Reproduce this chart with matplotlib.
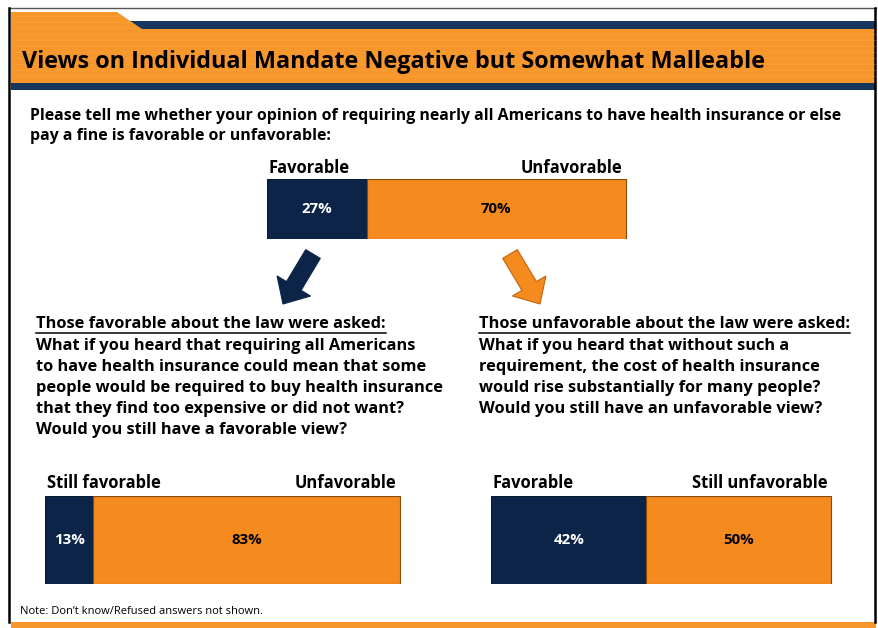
import matplotlib
matplotlib.use('Agg')
import matplotlib.pyplot as plt
import matplotlib.patches as mpatches

plt.rcParams['font.family'] = ['Open Sans', 'DejaVu Sans']

# Datos de la encuesta
titulo = 'Views on Individual Mandate Negative but Somewhat Malleable'
pregunta = ['Please tell me whether your opinion of requiring nearly all Americans to have health insurance or else',
            'pay a fine is favorable or unfavorable:']

etiquetas_total = ['Favorable', 'Unfavorable']
valores_total = [27, 70]

encabezado_fav = 'Those favorable about the law were asked:'
texto_fav = ['What if you heard that requiring all Americans',
             'to have health insurance could mean that some',
             'people would be required to buy health insurance',
             'that they find too expensive or did not want?',
             'Would you still have a favorable view?']
etiquetas_fav = ['Still favorable', 'Unfavorable']
valores_fav = [13, 83]

encabezado_desfav = 'Those unfavorable about the law were asked:'
texto_desfav = ['What if you heard that without such a',
                'requirement, the cost of health insurance',
                'would rise substantially for many people?',
                'Would you still have an unfavorable view?']
etiquetas_desfav = ['Favorable', 'Still unfavorable']
valores_desfav = [42, 50]

nota = 'Note: Don\u2019t know/Refused answers not shown.'

AZUL = '#0b2448'
NARANJA = '#f58a1f'
NARANJA_CAB = '#f7962b'
AZUL_CAB = '#17375e'

TAM_PREG = 11.4  # pregunta principal
TAM = 11.8       # bloques de texto
TAM_ETQ = 11.9   # etiquetas sobre las barras

W, H = 879, 628
fig = plt.figure(figsize=(W / 100, H / 100), dpi=100)
fig.patch.set_facecolor('white')

# Capa de fondo en coordenadas de pixel
fondo = fig.add_axes([0, 0, 1, 1])
fondo.set_xlim(0, W)
fondo.set_ylim(H, 0)
fondo.axis('off')

# Marco de la diapositiva
fondo.plot([9, 876], [8, 8], color='#555555', lw=1)
fondo.plot([9.5, 9.5], [8, 622], color='black', lw=1.8)
fondo.plot([875.5, 875.5], [8, 622], color='black', lw=1.8)

# Cabecera: franja azul, banda naranja con pestaña y franja azul inferior
fondo.add_patch(mpatches.Rectangle((11, 21), 865, 8, color=AZUL_CAB, lw=0))
fondo.add_patch(mpatches.Polygon([(11, 12), (117, 12), (142, 29), (876, 29), (876, 83), (11, 83)],
                                 closed=True, color=NARANJA_CAB, lw=0))
for yy in range(16, 82, 6):
    x1 = 876 if yy >= 29 else 117 + (yy - 12) * 25 / 17
    fondo.plot([11, x1], [yy, yy], color='#fbb563', lw=0.5, alpha=0.35)
fondo.add_patch(mpatches.Rectangle((11, 83), 865, 7, color=AZUL_CAB, lw=0))
fondo.text(22, 62, titulo, fontsize=16.8, fontweight='bold', va='center', ha='left', color='black')

# Banda naranja inferior
fondo.add_patch(mpatches.Rectangle((11, 622), 865, 6, color=NARANJA_CAB, lw=0))

# Pregunta principal
for i, linea in enumerate(pregunta):
    fondo.text(30, 116 + i * 20.5, linea, fontsize=TAM_PREG, fontweight='bold', va='center', ha='left')

# Flechas
fondo.add_patch(mpatches.FancyArrow(313, 254, -30, 50, width=17, head_width=39, head_length=21,
                                    length_includes_head=True, facecolor=AZUL, edgecolor=AZUL, lw=0.8))
fondo.add_patch(mpatches.FancyArrow(510, 254, 30, 50, width=17, head_width=39, head_length=21,
                                    length_includes_head=True, facecolor=NARANJA, edgecolor='#c0650e', lw=0.8))

# Bloques de texto con su encabezado subrayado
fig.canvas.draw()
renderer = fig.canvas.get_renderer()


def bloque(x, encabezado, lineas):
    t = fondo.text(x, 324, encabezado, fontsize=TAM, fontweight='bold', va='center', ha='left')
    bb = t.get_window_extent(renderer).transformed(fondo.transData.inverted())
    fondo.plot([x, bb.x1], [332.5, 332.5], color='black', lw=1.1)
    for i, linea in enumerate(lineas):
        fondo.text(x, 346 + i * 21, linea, fontsize=TAM, fontweight='bold', va='center', ha='left')


bloque(36, encabezado_fav, texto_fav)
bloque(479, encabezado_desfav, texto_desfav)

fondo.text(20, 612, nota, fontsize=8.0, va='center', ha='left')


# Barras apiladas horizontales
def barra(x, y, alto, etiquetas, valores, sep):
    ax = fig.add_axes([x / W, 1 - (y + alto) / H, 370 / W, alto / H])
    ax.set_xlim(0, 100)
    ax.set_ylim(-0.5, 0.5)
    ax.axis('off')
    izq = 0
    for v, c, ce, ct in zip(valores, [AZUL, NARANJA], ['#0a1a30', '#8a4a0a'], ['white', 'black']):
        ax.barh(0, v, left=izq, height=1, color=c, edgecolor=ce, lw=0.8)
        ax.text(izq + v / 2, 0, f'{v}%', ha='center', va='center', color=ct,
                fontsize=10.8, fontweight='bold')
        izq += v
    tr = ax.get_xaxis_transform()
    ax.text(0.5, 1 + sep / alto, etiquetas[0], transform=tr, ha='left', va='center',
            fontsize=TAM_ETQ, fontweight='bold')
    ax.text(izq - 1, 1 + sep / alto, etiquetas[1], transform=tr, ha='right', va='center',
            fontsize=TAM_ETQ, fontweight='bold')


barra(267, 179, 60, etiquetas_total, valores_total, 11)
barra(45, 496, 88, etiquetas_fav, valores_fav, 13)
barra(491, 496, 88, etiquetas_desfav, valores_desfav, 13)

plt.savefig('out.png', dpi=100)
